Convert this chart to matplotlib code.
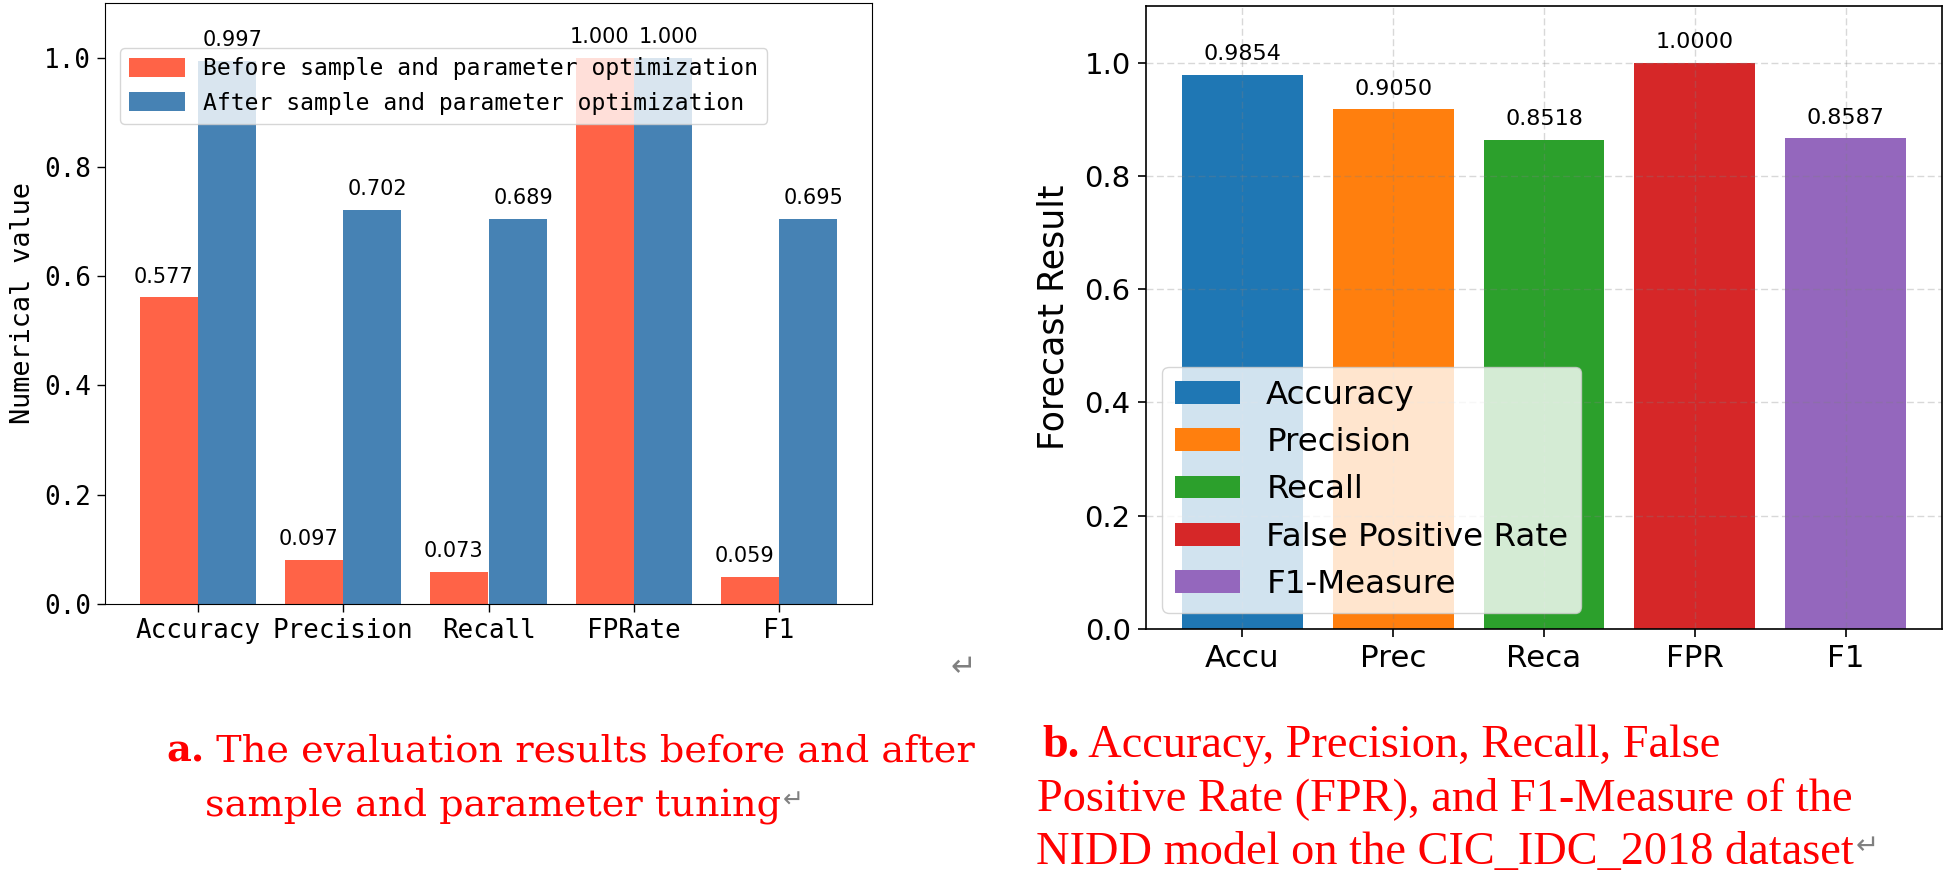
import matplotlib
matplotlib.use("Agg")
import matplotlib.pyplot as plt
import numpy as np

# left chart: before / after tuning
metrics_a = ["Accuracy", "Precision", "Recall", "FPRate", "F1"]
before_vals = [0.561, 0.080, 0.058, 1.000, 0.050]
after_vals = [0.994, 0.721, 0.705, 1.000, 0.705]
before_text = ["0.577", "0.097", "0.073", "1.000", "0.059"]
after_text = ["0.997", "0.702", "0.689", "1.000", "0.695"]
legend_a = ["Before sample and parameter optimization",
            "After sample and parameter optimization"]

# right chart: NIDD model results
metrics_b = ["Accu", "Prec", "Reca", "FPR", "F1"]
legend_b = ["Accuracy", "Precision", "Recall", "False Positive Rate", "F1-Measure"]
result_vals = [0.979, 0.918, 0.864, 1.000, 0.867]
result_text = ["0.9854", "0.9050", "0.8518", "1.0000", "0.8587"]

caption_a = ["a.", " The evaluation results before and after", "sample and parameter tuning"]
caption_b = ["b.", " Accuracy, Precision, Recall, False",
             "Positive Rate (FPR), and F1-Measure of the",
             "NIDD model on the CIC_IDC_2018 dataset"]

W, H = 1944, 877
fig = plt.figure(figsize=(W / 100, H / 100), dpi=100)

mono = "DejaVu Sans Mono"

# ---- chart a ----
ax1 = fig.add_axes([105 / W, 1 - 604 / H, 767 / W, 601 / H])
x = np.arange(len(metrics_a))
w = 0.4
bars1 = ax1.bar(x - w / 2, before_vals, w, color="tomato", label=legend_a[0])
bars2 = ax1.bar(x + w / 2, after_vals, w, color="steelblue", label=legend_a[1])
# small outward nudge so the two FPRate labels do not run together
for bars, texts, dx in [(bars1, before_text, -4), (bars2, after_text, 4)]:
    for rect, t in zip(bars, texts):
        ax1.annotate(t, (rect.get_x() + rect.get_width() / 2, rect.get_height() + 0.02),
                     xytext=(dx, 0), textcoords="offset points",
                     ha="center", va="bottom", fontsize=15)
ax1.set_ylim(0, 1.1)
ax1.set_xticks(x)
ax1.set_xticklabels(metrics_a, family=mono, fontsize=18.7)
ax1.set_yticks(np.arange(0, 1.01, 0.2))
ax1.set_yticklabels(["%.1f" % v for v in np.arange(0, 1.01, 0.2)], family=mono, fontsize=18.7)
ax1.tick_params(length=6, width=1, pad=4)
ax1.set_ylabel("Numerical value", family=mono, fontsize=19.4, labelpad=6)
ax1.legend(loc="upper left", bbox_to_anchor=(0.0196, 0.925), borderaxespad=0,
           prop={"family": mono, "size": 16.6}, handlelength=2.4, handleheight=0.9)

# ---- chart b ----
ax2 = fig.add_axes([1146 / W, 1 - 629 / H, 796 / W, 623 / H])
colors = ["tab:blue", "tab:orange", "tab:green", "tab:red", "tab:purple"]
xb = np.arange(len(metrics_b))
bars3 = ax2.bar(xb, result_vals, 0.8, color=colors)
for rect, t in zip(bars3, result_text):
    ax2.text(rect.get_x() + rect.get_width() / 2, rect.get_height() + 0.018, t,
             ha="center", va="bottom", fontsize=16)
ax2.set_ylim(0, 1.1)
ax2.set_xticks(xb)
ax2.set_xticklabels(metrics_b, fontsize=22.3)
ax2.tick_params(axis="y", labelsize=21)
ax2.tick_params(length=6, width=1.2, pad=5)
for s in ax2.spines.values():
    s.set_linewidth(1.2)
ax2.set_ylabel("Forecast Result", fontsize=25, labelpad=10)
ax2.grid(True, linestyle=(0, (5, 2.5)), color="gray", alpha=0.3, linewidth=1)
ax2.legend(bars3.patches, legend_b, loc="lower left", fontsize=23.4)

# ---- captions ----
cap = fig.add_axes([0, 0, 1, 1])
cap.axis("off")
cap.set_xlim(0, W)
cap.set_ylim(H, 0)

cap.text(963, 668, "\u21b5", ha="center", va="center", fontsize=22, color="gray")

serif_a = "DejaVu Serif"
t = cap.text(166, 762, caption_a[0], family=serif_a, fontweight="bold", fontsize=27.5,
             color="red", va="baseline")
cap.annotate(caption_a[1], xy=(1, 0), xycoords=t, va="bottom", ha="left",
             family=serif_a, fontsize=27.5, color="red")
t = cap.text(205, 815, caption_a[2], family=serif_a, fontsize=27.5, color="red", va="baseline")
cap.annotate("\u21b5", xy=(1, 0), xycoords=t, xytext=(1, 8), textcoords="offset points",
             va="bottom", ha="left", fontsize=18, color="gray")

serif_b = "Liberation Serif"
t = cap.text(1042, 757, caption_b[0], family=serif_b, fontweight="bold", fontsize=33.4,
             color="red", va="baseline")
cap.annotate(caption_b[1], xy=(1, 0), xycoords=t, va="bottom", ha="left",
             family=serif_b, fontsize=33.4, color="red")
cap.text(1037, 810, caption_b[2], family=serif_b, fontsize=33.4, color="red", va="baseline")
t = cap.text(1036, 864, caption_b[3], family=serif_b, fontsize=33.4, color="red", va="baseline")
cap.annotate("\u21b5", xy=(1, 0), xycoords=t, xytext=(1, 10), textcoords="offset points",
             va="bottom", ha="left", fontsize=20, color="gray")

fig.savefig("out.png", dpi=100)
